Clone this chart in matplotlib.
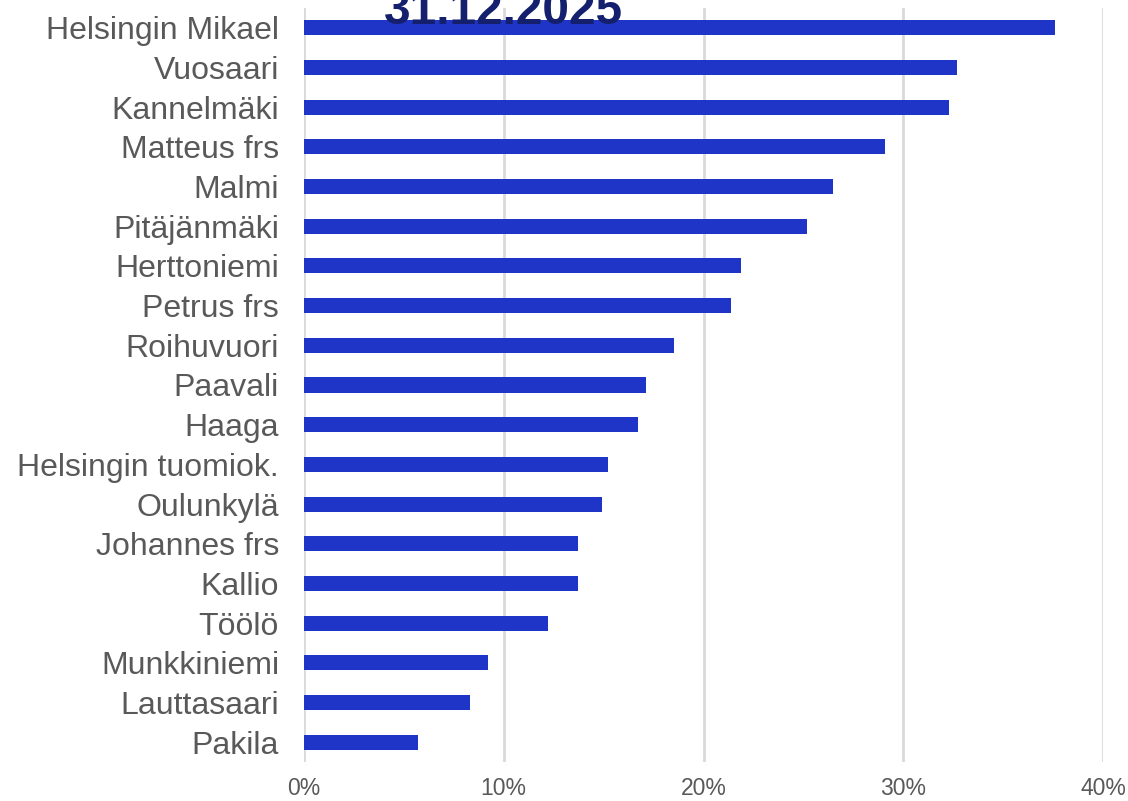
import matplotlib
matplotlib.use("Agg")
import matplotlib.pyplot as plt
from matplotlib.ticker import FuncFormatter

categories = ["Helsingin Mikael", "Vuosaari", "Kannelmäki", "Matteus frs", "Malmi",
              "Pitäjänmäki", "Herttoniemi", "Petrus frs", "Roihuvuori", "Paavali",
              "Haaga", "Helsingin tuomiok.", "Oulunkylä", "Johannes frs", "Kallio",
              "Töölö", "Munkkiniemi", "Lauttasaari", "Pakila"]
values = [37.6, 32.7, 32.3, 29.1, 26.5, 25.2, 21.9, 21.4, 18.5, 17.1,
          16.7, 15.2, 14.9, 13.7, 13.7, 12.2, 9.2, 8.3, 5.7]
xticks = [0, 10, 20, 30, 40]
title = "31.12.2025"

plt.rcParams['font.family'] = ['Liberation Sans', 'DejaVu Sans']

fig = plt.figure(figsize=(11.28, 8.01), dpi=100)
ax = fig.add_axes([304/1128, 39/801, (1103-304)/1128, (762-8)/801])

y = list(range(len(categories)))
ax.barh(y, values, height=0.38, color="#1f35c8", zorder=3)
ax.set_ylim(len(categories) - 0.5, -0.5)
ax.set_xlim(0, 40)
ax.set_yticks(y)
ax.set_yticklabels(categories, fontsize=23, color="#595959")
ax.set_xticks(xticks)
ax.xaxis.set_major_formatter(FuncFormatter(lambda v, p: f"{int(v)}%"))
ax.tick_params(axis='x', labelsize=16.5, colors="#595959", length=0, pad=11)
ax.tick_params(axis='y', length=0, pad=18)
ax.grid(axis='x', color="#d9d9d9", linewidth=2, zorder=0)
for s in ax.spines.values():
    s.set_visible(False)

fig.text(503/1128, 1 - 24/801, title, ha='center', va='baseline',
         fontsize=34.5, fontweight='bold', color="#14206e", zorder=5)

fig.savefig("out.png", dpi=100)
